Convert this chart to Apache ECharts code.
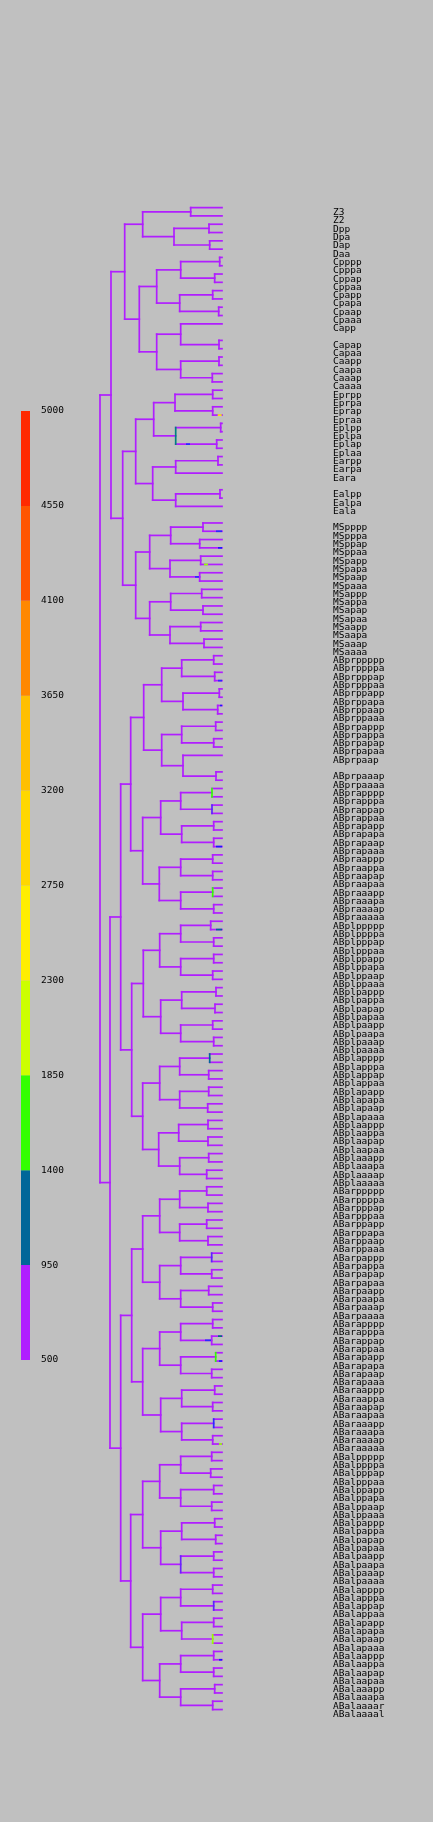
<!DOCTYPE html>
<html lang="en">
<head>
<meta charset="UTF-8">
<title>Lineage tree</title>
<script src="https://cdn.jsdelivr.net/npm/echarts@6/dist/echarts.min.js"></script>
<style>
    html, body { margin: 0; padding: 0; background: #c0c0c0; }
    #main { width: 433px; height: 1822px; }
</style>
</head>
<body>
<div id="main"></div>
<script type="text/javascript">
// leaf rows, top to bottom ('' = empty row)
var rows = [
    'Z3', 'Z2', 'Dpp', 'Dpa', 'Dap', 'Daa',
    'Cpppp', 'Cpppa', 'Cppap', 'Cppaa', 'Cpapp', 'Cpapa', 'Cpaap', 'Cpaaa', 'Capp', '',
    'Capap', 'Capaa', 'Caapp', 'Caapa', 'Caaap', 'Caaaa',
    'Eprpp', 'Eprpa', 'Eprap', 'Epraa', 'Eplpp', 'Eplpa', 'Eplap', 'Eplaa',
    'Earpp', 'Earpa', 'Eara', '', 'Ealpp', 'Ealpa', 'Eala', '',
    'MSpppp', 'MSpppa', 'MSppap', 'MSppaa', 'MSpapp', 'MSpapa', 'MSpaap', 'MSpaaa',
    'MSappp', 'MSappa', 'MSapap', 'MSapaa', 'MSaapp', 'MSaapa', 'MSaaap', 'MSaaaa',
    'ABprppppp', 'ABprppppa', 'ABprpppap', 'ABprpppaa', 'ABprppapp', 'ABprppapa', 'ABprppaap', 'ABprppaaa',
    'ABprpappp', 'ABprpappa', 'ABprpapap', 'ABprpapaa', 'ABprpaap', '', 'ABprpaaap', 'ABprpaaaa',
    'ABprapppp', 'ABprapppa', 'ABprappap', 'ABprappaa', 'ABprapapp', 'ABprapapa', 'ABprapaap', 'ABprapaaa',
    'ABpraappp', 'ABpraappa', 'ABpraapap', 'ABpraapaa', 'ABpraaapp', 'ABpraaapa', 'ABpraaaap', 'ABpraaaaa',
    'ABplppppp', 'ABplppppa', 'ABplpppap', 'ABplpppaa', 'ABplppapp', 'ABplppapa', 'ABplppaap', 'ABplppaaa',
    'ABplpappp', 'ABplpappa', 'ABplpapap', 'ABplpapaa', 'ABplpaapp', 'ABplpaapa', 'ABplpaaap', 'ABplpaaaa',
    'ABplapppp', 'ABplapppa', 'ABplappap', 'ABplappaa', 'ABplapapp', 'ABplapapa', 'ABplapaap', 'ABplapaaa',
    'ABplaappp', 'ABplaappa', 'ABplaapap', 'ABplaapaa', 'ABplaaapp', 'ABplaaapa', 'ABplaaaap', 'ABplaaaaa',
    'ABarppppp', 'ABarppppa', 'ABarpppap', 'ABarpppaa', 'ABarppapp', 'ABarppapa', 'ABarppaap', 'ABarppaaa',
    'ABarpappp', 'ABarpappa', 'ABarpapap', 'ABarpapaa', 'ABarpaapp', 'ABarpaapa', 'ABarpaaap', 'ABarpaaaa',
    'ABarapppp', 'ABarapppa', 'ABarappap', 'ABarappaa', 'ABarapapp', 'ABarapapa', 'ABarapaap', 'ABarapaaa',
    'ABaraappp', 'ABaraappa', 'ABaraapap', 'ABaraapaa', 'ABaraaapp', 'ABaraaapa', 'ABaraaaap', 'ABaraaaaa',
    'ABalppppp', 'ABalppppa', 'ABalpppap', 'ABalpppaa', 'ABalppapp', 'ABalppapa', 'ABalppaap', 'ABalppaaa',
    'ABalpappp', 'ABalpappa', 'ABalpapap', 'ABalpapaa', 'ABalpaapp', 'ABalpaapa', 'ABalpaaap', 'ABalpaaaa',
    'ABalapppp', 'ABalapppa', 'ABalappap', 'ABalappaa', 'ABalapapp', 'ABalapapa', 'ABalapaap', 'ABalapaaa',
    'ABalaappp', 'ABalaappa', 'ABalaapap', 'ABalaapaa', 'ABalaaapp', 'ABalaaapa', 'ABalaaaar', 'ABalaaaal'
];

// founder cells whose daughters do not share their name
var founders = {
    P0: ['P1', 'AB'], P1: ['P2', 'EMS'], P2: ['P3', 'C'],
    P3: ['P4', 'D'], P4: ['Z3', 'Z2'], EMS: ['E', 'MS']
};

// merge height of every inner node (leaves sit at 0)
var nodeHeights = [
    ['P0', 122], ['P1', 111], ['P2', 97.3], ['P3', 79.3], ['P4', 31.3],
    ['D', 48], ['Dp', 13], ['Da', 12.3],
    ['C', 82.7], ['Cp', 65.3], ['Cpp', 41.3], ['Cppp', 2.3], ['Cppa', 7.3],
    ['Cpa', 42.3], ['Cpap', 9.3], ['Cpaa', 3.3],
    ['Ca', 65.3], ['Cap', 41.3], ['Capa', 3], ['Caa', 41.3], ['Caap', 3], ['Caaa', 9.7],
    ['EMS', 99.3], ['E', 86.3], ['Ep', 68.3], ['Epr', 47], ['Eprp', 9.3], ['Epra', 9.3],
    ['Epl', 46.3], ['Eplp', 1.3], ['Epla', 5.3],
    ['Ea', 69.3], ['Ear', 46.3], ['Earp', 4], ['Eal', 46.3], ['Ealp', 2],
    ['MS', 86.3], ['MSp', 72.3], ['MSpp', 51.3], ['MSppp', 19], ['MSppa', 22.3],
    ['MSpa', 52], ['MSpap', 21.3], ['MSpaa', 22.3],
    ['MSa', 72.3], ['MSap', 51.3], ['MSapp', 20.3], ['MSapa', 19],
    ['MSaa', 52], ['MSaap', 21.3], ['MSaaa', 18],
    ['AB', 112], ['ABp', 101.3], ['ABa', 101.3],
    ['ABpr', 91.3], ['ABprp', 78.3], ['ABprpp', 60.3], ['ABprppp', 40.3],
    ['ABprpppp', 8.3], ['ABprpppa', 7.3], ['ABprppa', 39], ['ABprppap', 2.7], ['ABprppaa', 4.3],
    ['ABprpa', 60.3], ['ABprpap', 40.3], ['ABprpapp', 6.3], ['ABprpapa', 8.3],
    ['ABprpaa', 39], ['ABprpaaa', 6],
    ['ABpra', 79.3], ['ABprap', 61.3], ['ABprapp', 41.3], ['ABprappp', 10], ['ABprappa', 10],
    ['ABprapa', 40.3], ['ABprapap', 8.3], ['ABprapaa', 8.3],
    ['ABpraa', 62.7], ['ABpraap', 41.3], ['ABpraapp', 9.3], ['ABpraapa', 9.3],
    ['ABpraaa', 41.3], ['ABpraaap', 9.3], ['ABpraaaa', 8.3],
    ['ABpl', 90.3], ['ABplp', 78.7], ['ABplpp', 62.3], ['ABplppp', 41.3],
    ['ABplpppp', 11.3], ['ABplpppa', 8.3], ['ABplppa', 41.3], ['ABplppap', 8.3], ['ABplppaa', 9.3],
    ['ABplpa', 61.3], ['ABplpap', 40.3], ['ABplpapp', 6], ['ABplpapa', 7],
    ['ABplpaa', 41.3], ['ABplpaap', 9.3], ['ABplpaaa', 8.3],
    ['ABpla', 79.3], ['ABplap', 62.3], ['ABplapp', 42.3], ['ABplappp', 12.3], ['ABplappa', 13.3],
    ['ABplapa', 42.3], ['ABplapap', 13.3], ['ABplapaa', 14.3],
    ['ABplaa', 63.3], ['ABplaap', 43.3], ['ABplaapp', 14], ['ABplaapa', 14],
    ['ABplaaa', 42.3], ['ABplaaap', 13.3], ['ABplaaaa', 15.3],
    ['ABar', 90.3], ['ABarp', 79.3], ['ABarpp', 62.3], ['ABarppp', 42.3],
    ['ABarpppp', 15.3], ['ABarpppa', 14], ['ABarppa', 42.3], ['ABarppap', 15.3], ['ABarppaa', 14],
    ['ABarpa', 62.3], ['ABarpap', 41.3], ['ABarpapp', 10.3], ['ABarpapa', 10.3],
    ['ABarpaa', 41.3], ['ABarpaap', 13.3], ['ABarpaaa', 9.3],
    ['ABara', 79.3], ['ABarap', 62.3], ['ABarapp', 41.3], ['ABarappp', 9.3], ['ABarappa', 10.3],
    ['ABarapa', 41.3], ['ABarapap', 6.3], ['ABarapaa', 10.3],
    ['ABaraa', 61.3], ['ABaraap', 40.3], ['ABaraapp', 7.3], ['ABaraapa', 9.3],
    ['ABaraaa', 40.3], ['ABaraaap', 8.3], ['ABaraaaa', 9.3],
    ['ABal', 91.3], ['ABalp', 79.3], ['ABalpp', 62.3], ['ABalppp', 41.3],
    ['ABalpppp', 10.3], ['ABalpppa', 11.3], ['ABalppa', 41.3], ['ABalppap', 8.3], ['ABalppaa', 10.3],
    ['ABalpa', 61.3], ['ABalpap', 40.3], ['ABalpapp', 7.3], ['ABalpapa', 6.3],
    ['ABalpaa', 41.3], ['ABalpaap', 8.3], ['ABalpaaa', 8.3],
    ['ABala', 79.3], ['ABalap', 61.3], ['ABalapp', 41.3], ['ABalappp', 9.3], ['ABalappa', 8.3],
    ['ABalapa', 40.3], ['ABalapap', 8.3], ['ABalapaa', 9.3],
    ['ABalaa', 62.3], ['ABalaap', 41.3], ['ABalaapp', 8.3], ['ABalaapa', 8.3],
    ['ABalaaa', 41.3], ['ABalaaap', 7.3], ['ABalaaaa', 9.3]
];

// colour scale
var scaleTicks = ['500', '950', '1400', '1850', '2300', '2750', '3200', '3650', '4100', '4550', '5000'];
var scaleColors = ['#b01eff', '#006699', '#33ff00', '#ccff00', '#ffee00',
                   '#ffd700', '#ffbf00', '#ff8800', '#ff5500', '#ff2a00'];

// connectors drawn in another colour
var vertTints = [
    ['Epl', '#00807f'], ['ABprappp', '#33ff00'], ['ABprappa', '#5a24ff'], ['ABpraaap', '#33ff00'],
    ['ABplappp', '#006699'], ['ABarpapp', '#5a24ff'], ['ABarapap', '#33ff00'], ['ABaraaap', '#2a2aff'],
    ['ABalpaa', '#6a22ff'], ['ABalappa', '#5a24ff'], ['ABalapaa', '#99ff00']
];
// short stretches of a branch in another colour: [cell, from, to, colour]
var branchTints = [
    ['Epraa', 0.3, 4.3, '#ffee00'], ['Epla', 32, 36, '#2a2aff'],
    ['MSpppa', 0, 6, '#2a2aff'], ['MSppaa', 0, 4, '#1a1aff'], ['MSpapa', 14, 18, '#99ff00'],
    ['MSpaa', 23, 27, '#2a2aff'], ['ABprpppaa', 0, 4, '#2a2aff'], ['ABprppaap', 0, 2, '#1a1aff'],
    ['ABprapaaa', 0, 6, '#1a1aff'], ['ABplppppa', 0, 6, '#006699'], ['ABarappap', 0, 4, '#00707f'],
    ['ABarappa', 11, 17, '#2a2aff'], ['ABarapapa', 0, 3, '#1a1aff'], ['ABaraaaaa', 0, 3, '#99ff00'],
    ['ABalaappa', 0, 3, '#1a1aff']
];

var branchColor = scaleColors[0];

// ---- layout ----
var heightOf = {};
var rowOf = {};
var allNames = [];
rows.forEach(function (name, i) {
    if (name) { rowOf[name] = i; heightOf[name] = 0; allNames.push(name); }
});
nodeHeights.forEach(function (n) { heightOf[n[0]] = n[1]; allNames.push(n[0]); });

function childrenOf(name) {
    if (founders[name]) return founders[name];
    if (rowOf[name] !== undefined) return [];
    return allNames.filter(function (c) {
        return c.length === name.length + 1 && c.indexOf(name) === 0;
    });
}

var yOf = {};
function place(name) {
    var kids = childrenOf(name);
    if (!kids.length) { yOf[name] = rowOf[name]; return yOf[name]; }
    var ys = kids.map(place);
    yOf[name] = (Math.min.apply(null, ys) + Math.max.apply(null, ys)) / 2;
    return yOf[name];
}
place('P0');

var vertColor = {};
vertTints.forEach(function (t) { vertColor[t[0]] = t[1]; });

var segments = [];
nodeHeights.forEach(function (n) {
    var name = n[0], h = n[1];
    var kids = childrenOf(name);
    var ys = kids.map(function (k) { return yOf[k]; });
    segments.push({
        value: [h, Math.min.apply(null, ys), h, Math.max.apply(null, ys)],
        itemStyle: { color: vertColor[name] || branchColor }
    });
    kids.forEach(function (k) {
        segments.push({ value: [h, yOf[k], heightOf[k], yOf[k]], itemStyle: { color: branchColor } });
    });
});
// vertical connectors on top of the horizontals
segments.sort(function (a, b) {
    var av = a.value[0] === a.value[2] ? 1 : 0;
    var bv = b.value[0] === b.value[2] ? 1 : 0;
    return av - bv;
});

var tintSegments = branchTints.map(function (t) {
    return { value: [t[1], yOf[t[0]], t[2], yOf[t[0]]], itemStyle: { color: t[3] } };
});

var scalePieces = [];
for (var i = 0; i < scaleColors.length; i++) {
    scalePieces.push({ value: [0, i, 1, i + 1], itemStyle: { color: scaleColors[i] } });
}

function drawSegment(cap) {
    return function (params, api) {
        var a = api.coord([api.value(0), api.value(1)]);
        var b = api.coord([api.value(2), api.value(3)]);
        return {
            type: 'line',
            shape: { x1: a[0], y1: a[1], x2: b[0], y2: b[1] },
            style: { stroke: api.visual('color'), lineWidth: 1.7, lineCap: cap }
        };
    };
}

var labelFont = {
    color: '#000',
    fontFamily: 'DejaVu Sans Mono',
    fontSize: 9.5
};

var myChart = echarts.init(document.getElementById('main'), null, { renderer: 'canvas' });
myChart.setOption({
    backgroundColor: '#c0c0c0',
    animation: false,
    grid: [
        { left: 100, right: 211, top: 203.5, height: 1510.2 },
        { left: 21, width: 9, top: 411, height: 949 }
    ],
    xAxis: [
        { gridIndex: 0, type: 'value', inverse: true, min: 0, max: 122, show: false },
        { gridIndex: 1, type: 'value', min: 0, max: 1, show: false }
    ],
    yAxis: [
        { gridIndex: 0, type: 'value', inverse: true, min: -0.5, max: rows.length - 0.5, show: false },
        {
            gridIndex: 0, type: 'category', data: rows, inverse: true, position: 'right',
            axisLine: { show: false }, axisTick: { show: false }, splitLine: { show: false },
            axisLabel: Object.assign({ interval: 0, margin: 111, verticalAlign: 'top' }, labelFont)
        },
        {
            gridIndex: 1, type: 'category', data: scaleTicks, boundaryGap: false, position: 'right',
            axisLine: { show: false }, axisTick: { show: false }, splitLine: { show: false },
            axisLabel: Object.assign({ interval: 0, margin: 11, verticalAlign: 'middle',
                                       padding: [0, 0, 6, 0] }, labelFont)
        }
    ],
    series: [
        {
            type: 'custom', xAxisIndex: 0, yAxisIndex: 0, clip: false,
            encode: { x: [0, 2], y: [1, 3] },
            renderItem: drawSegment('square'),
            data: segments
        },
        {
            type: 'custom', xAxisIndex: 0, yAxisIndex: 0, clip: false,
            encode: { x: [0, 2], y: [1, 3] },
            renderItem: drawSegment('butt'),
            data: tintSegments
        },
        {
            type: 'custom', xAxisIndex: 1, yAxisIndex: 2,
            encode: { x: [0, 2], y: [1, 3] },
            renderItem: function (params, api) {
                var p1 = api.coord([api.value(0), api.value(3)]);
                var p2 = api.coord([api.value(2), api.value(1)]);
                return {
                    type: 'rect',
                    shape: { x: p1[0], y: p1[1], width: p2[0] - p1[0], height: p2[1] - p1[1] },
                    style: { fill: api.visual('color') }
                };
            },
            data: scalePieces
        }
    ]
});
</script>
</body>
</html>
